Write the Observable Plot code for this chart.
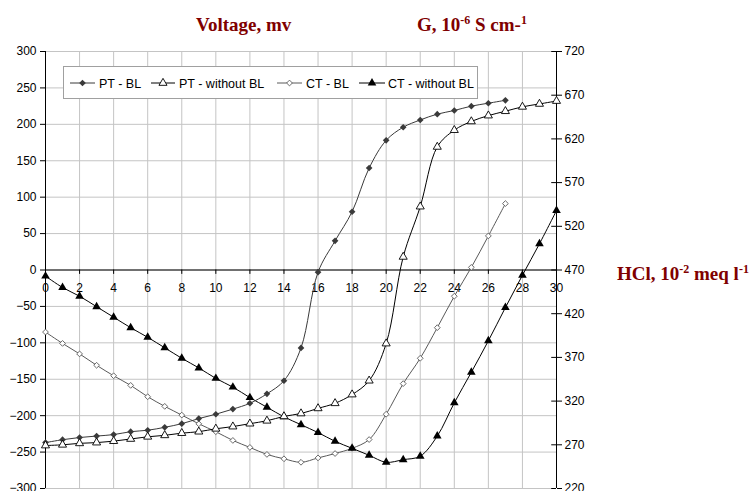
<!DOCTYPE html>
<html><head><meta charset="utf-8">
<script src="https://cdn.jsdelivr.net/npm/d3@7"></script>
<script src="https://cdn.jsdelivr.net/npm/@observablehq/plot@0.6"></script>
<style>
body{margin:0;background:#fff;}
#wrap{position:relative;width:755px;height:491px;overflow:hidden;}
#wrap svg{position:absolute;left:0;top:0;}
</style></head><body><div id="wrap"></div>
<script>
// HCl, 10^-2 meq/l
const hcl = [0,1,2,3,4,5,6,7,8,9,10,11,12,13,14,15,16,17,18,19,20,21,22,23,24,25,26,27,28,29,30];
// Voltage, mV (left axis)
const ptBL   = [-237,-233,-230,-228,-226,-222,-220,-216,-211,-204,-198,-191,-183,-170,-152,-107,-3,40,80,140,178,196,206,214,219,225,229,233];
const ptNoBL = [-241,-240,-238,-237,-235,-232,-229,-227,-224,-222,-218,-215,-211,-207,-201,-197,-190,-183,-171,-152,-101,18,87,169,192,204,212,218,224,228,232];
// Conductance G, 10^-6 S/cm (right axis)
const ctBL   = [399,386,374,361,349,338,325,314,304,294,285,275,267,259,254,250,255,260,266,276,305,340,369,404,440,473,509,546];
const ctNoBL = [463,450,440,428,416,404,393,381,369,358,346,336,324,313,302,293,284,274,266,258,250,253,257,280,318,353,389,427,464,500,538];

const seriesNames = ["PT - BL","PT - without BL","CT - BL","CT - without BL"];
const xTicks = [0,2,4,6,8,10,12,14,16,18,20,22,24,26,28,30];
const leftTicks = [-300,-250,-200,-150,-100,-50,0,50,100,150,200,250,300];
const rightTicks = [220,270,320,370,420,470,520,570,620,670,720];

// right axis (G) shares the plot's y scale: 720 at top, 220 at bottom
const toLeft = r => (r - 470) * 1.2;
const fromLeft = v => Math.round(v / 1.2 + 470);

const rows = (ys, right) => ys.map((v, i) => ({x: hcl[i], y: right ? toLeft(v) : v}));
const dPtBL = rows(ptBL, false), dPtNo = rows(ptNoBL, false);
const dCtBL = rows(ctBL, true), dCtNo = rows(ctNoBL, true);

const sty = {
  ptBL: {stroke:"#3a3a3a", sym:"diamond2", fill:"#3a3a3a", mstroke:"none", r:3},
  ptNo: {stroke:"#000", sym:"triangle", fill:"#fff", mstroke:"#000", r:3},
  ctBL: {stroke:"#5a5a5a", sym:"diamond2", fill:"#fff", mstroke:"#5a5a5a", r:2.6},
  ctNo: {stroke:"#000", sym:"triangle", fill:"#000", mstroke:"none", r:3.2}
};
const seriesMarks = (data, s) => [
  Plot.line(data, {x:"x", y:"y", stroke:s.stroke, strokeWidth:1, curve:"catmull-rom"}),
  Plot.dot(data, {x:"x", y:"y", symbol:()=>s.sym, r:s.r, fill:s.fill, stroke:s.mstroke, strokeWidth:0.9})
];

const chart = Plot.plot({
  width:755, height:491,
  marginLeft:45, marginRight:199, marginTop:51, marginBottom:3,
  x:{domain:[0,30], axis:null},
  y:{domain:[-300,300], axis:null},
  symbol:{type:"identity"},
  style:{fontFamily:"'Liberation Sans', Arial, sans-serif", fontSize:"12px", color:"#000", background:"transparent"},
  marks:[
    Plot.gridX(xTicks, {stroke:"#c4c4c4", strokeOpacity:1}),
    Plot.gridY(leftTicks, {stroke:"#c4c4c4", strokeOpacity:1}),
    Plot.axisY(leftTicks, {anchor:"left", tickSize:5, tickPadding:4, label:null, fontSize:12}),
    Plot.axisY(rightTicks.map(toLeft), {anchor:"right", tickSize:5, tickPadding:3, tickFormat:fromLeft, label:null, fontSize:12}),
    Plot.ruleY(rightTicks.map(toLeft), {x1:29.72, x2:30, stroke:"#000"}),
    Plot.ruleX([0, 30], {stroke:"#000"}),
    Plot.ruleY([0], {stroke:"#000"}),
    Plot.ruleX(xTicks, {y1:0, y2:-6, stroke:"#000"}),
    Plot.text(xTicks, {x:d=>d, y:0, dy:18, text:d=>String(d), textAnchor:"middle", fontSize:12, fill:"#000"}),
    ...seriesMarks(dCtBL, sty.ctBL),
    ...seriesMarks(dCtNo, sty.ctNo),
    ...seriesMarks(dPtBL, sty.ptBL),
    ...seriesMarks(dPtNo, sty.ptNo)
  ]
});
const wrap = document.getElementById("wrap");
wrap.appendChild(chart);

// overlay: titles and legend
const ov = d3.create("svg").attr("width",755).attr("height",491).attr("viewBox","0 0 755 491");
const titleColor = "#800000";
const tfont = "'Liberation Serif', 'Times New Roman', serif";
function title(x, y, parts){
  const t = ov.append("text").attr("x",x).attr("y",y).attr("fill",titleColor)
    .attr("font-family",tfont).attr("font-weight","bold").attr("font-size",19);
  parts.forEach(p => {
    t.append("tspan").attr("dy", p.dy || 0).attr("font-size", p.sup ? 12 : 19).text(p.t);
  });
}
title(196, 31, [{t:"Voltage, mv"}]);
title(417, 31, [{t:"G, 10"},{t:"-6",sup:true,dy:-7},{t:" S cm-",dy:7},{t:"1",sup:true,dy:-7}]);
title(617, 280, [{t:"HCl, 10"},{t:"-2",sup:true,dy:-7},{t:" meq l",dy:7},{t:"-1",sup:true,dy:-7}]);

// legend
const lg = ov.append("g");
lg.append("rect").attr("x",63.5).attr("y",66.5).attr("width",414).attr("height",32)
  .attr("fill","#fff").attr("stroke","#a0a0a0");
const items = [
  {name:seriesNames[0], s:sty.ptBL, x0:70, x1:95, tx:99},
  {name:seriesNames[1], s:sty.ptNo, x0:151, x1:175, tx:179},
  {name:seriesNames[2], s:sty.ctBL, x0:277, x1:302, tx:306},
  {name:seriesNames[3], s:sty.ctNo, x0:359, x1:385, tx:388}
];
const symMap = {diamond2: d3.symbolDiamond2, triangle: d3.symbolTriangle};
const ly = 83;
items.forEach(it => {
  lg.append("line").attr("x1",it.x0).attr("x2",it.x1).attr("y1",ly).attr("y2",ly)
    .attr("stroke",it.s.stroke).attr("stroke-width",1);
  lg.append("path").attr("transform",`translate(${(it.x0+it.x1)/2},${ly})`)
    .attr("d", d3.symbol(symMap[it.s.sym], Math.PI*it.s.r*it.s.r)())
    .attr("fill",it.s.fill).attr("stroke",it.s.mstroke).attr("stroke-width",0.9);
  lg.append("text").attr("x",it.tx).attr("y",ly+4.5).attr("font-family","'Liberation Sans', Arial, sans-serif")
    .attr("font-size",12.5).attr("fill","#000").text(it.name);
});
wrap.appendChild(ov.node());
</script>
</body></html>
